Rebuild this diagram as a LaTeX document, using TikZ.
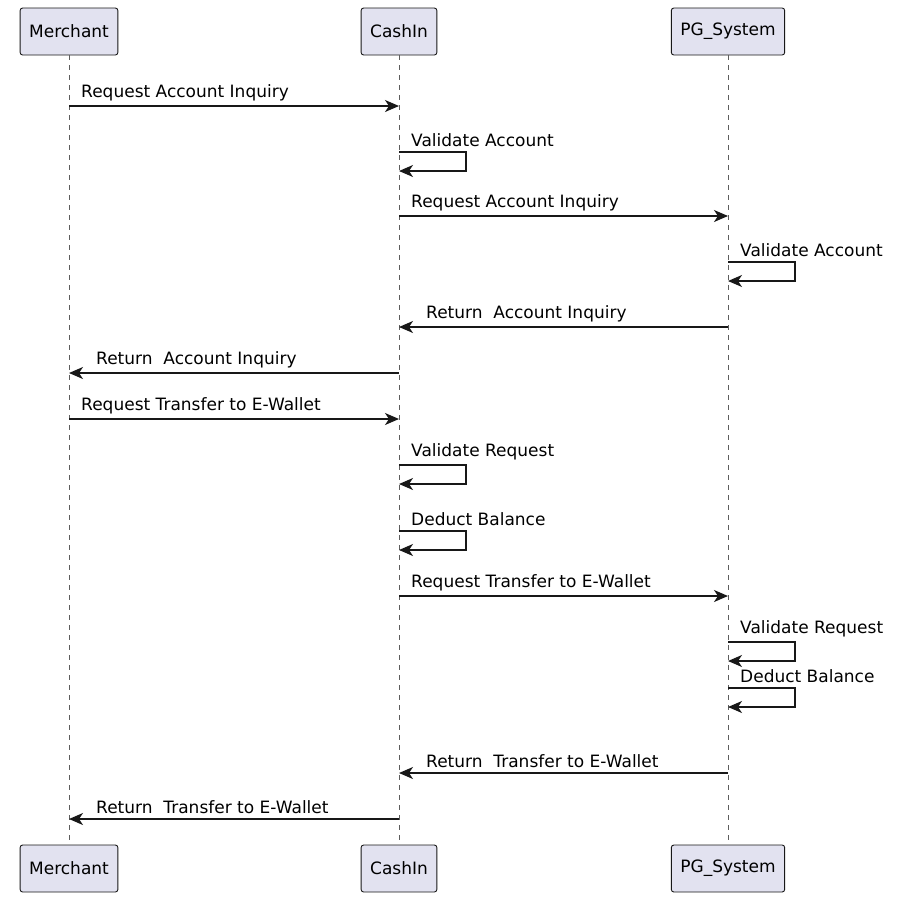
\documentclass[tikz,border=0pt]{standalone}
\usepackage{fontspec}
\setmainfont{DejaVu Sans}
\usetikzlibrary{arrows.meta,positioning}
\definecolor{boxfill}{HTML}{E2E2F0}
\definecolor{linecol}{HTML}{181818}
\tikzset{
	x=1pt, y=-1pt,
	participant/.style = {
			draw=linecol, fill=boxfill, line width=0.9pt,
			rounded corners=2.5pt, minimum height=47pt,
			inner xsep=9pt, font=\fontsize{17}{20}\selectfont
		},
	lifeline/.style = {draw=linecol!70, line width=0.8pt, dash pattern=on 5pt off 5pt},
	message/.style  = {draw=linecol, line width=1.4pt, -{Stealth[length=14pt,width=12pt,inset=4pt]}},
	msglabel/.style = {anchor=south west, inner sep=0pt, font=\fontsize{17}{20}\selectfont}
}
\begin{document}
\begin{tikzpicture}
	\useasboundingbox (0,0) rectangle (923,900);

	% participants
	\foreach \n/\x/\t in {mer/69/Merchant, cash/399/CashIn, pg/728/PG\_System} {
		\node[participant] (\n T) at (\x,31.5) {\t};
		\node[participant] (\n B) at (\x,868.5) {\t};
		\draw[lifeline] (\n T.south) -- (\n B.north);
	}

	% messages between lifelines
	\foreach \i/\a/\b/\y/\lx/\A in {
			1/69/399/106/81/{Request Account Inquiry},
			2/399/728/216/411/{Request Account Inquiry},
			3/728/399/327/426/{Return\ \ Account Inquiry},
			4/399/69/373/96/{Return\ \ Account Inquiry},
			5/69/399/419/81/{Request Transfer to E-Wallet},
			6/399/728/596/411/{Request Transfer to E-Wallet},
			7/728/399/773/426/{Return\ \ Transfer to E-Wallet},
			8/399/69/819/96/{Return\ \ Transfer to E-Wallet}
		} {
		\coordinate (s\i) at (\a,\y);
		\coordinate (e\i) at (\b,\y);
		\draw[message] (s\i) -- (e\i);
		\node[msglabel] (l\i) at (\lx,\y-5) {\A};
	}

	% self messages
	\foreach \i/\x/\y/\A in {
			1/399/152/{Validate Account},
			2/728/262/{Validate Account},
			3/399/465/{Validate Request},
			4/399/531/{Deduct Balance},
			5/728/642/{Validate Request},
			6/728/688/{Deduct Balance}
		} {
		\coordinate (ss\i) at (\x,\y);
		\coordinate (se\i) at (\x,\y+19);
		\draw[message] (ss\i) -- ++(67,0) |- (se\i);
		\node[msglabel] (sl\i) at (\x+12,\y-5) {\A};
	}
\end{tikzpicture}
\end{document}
